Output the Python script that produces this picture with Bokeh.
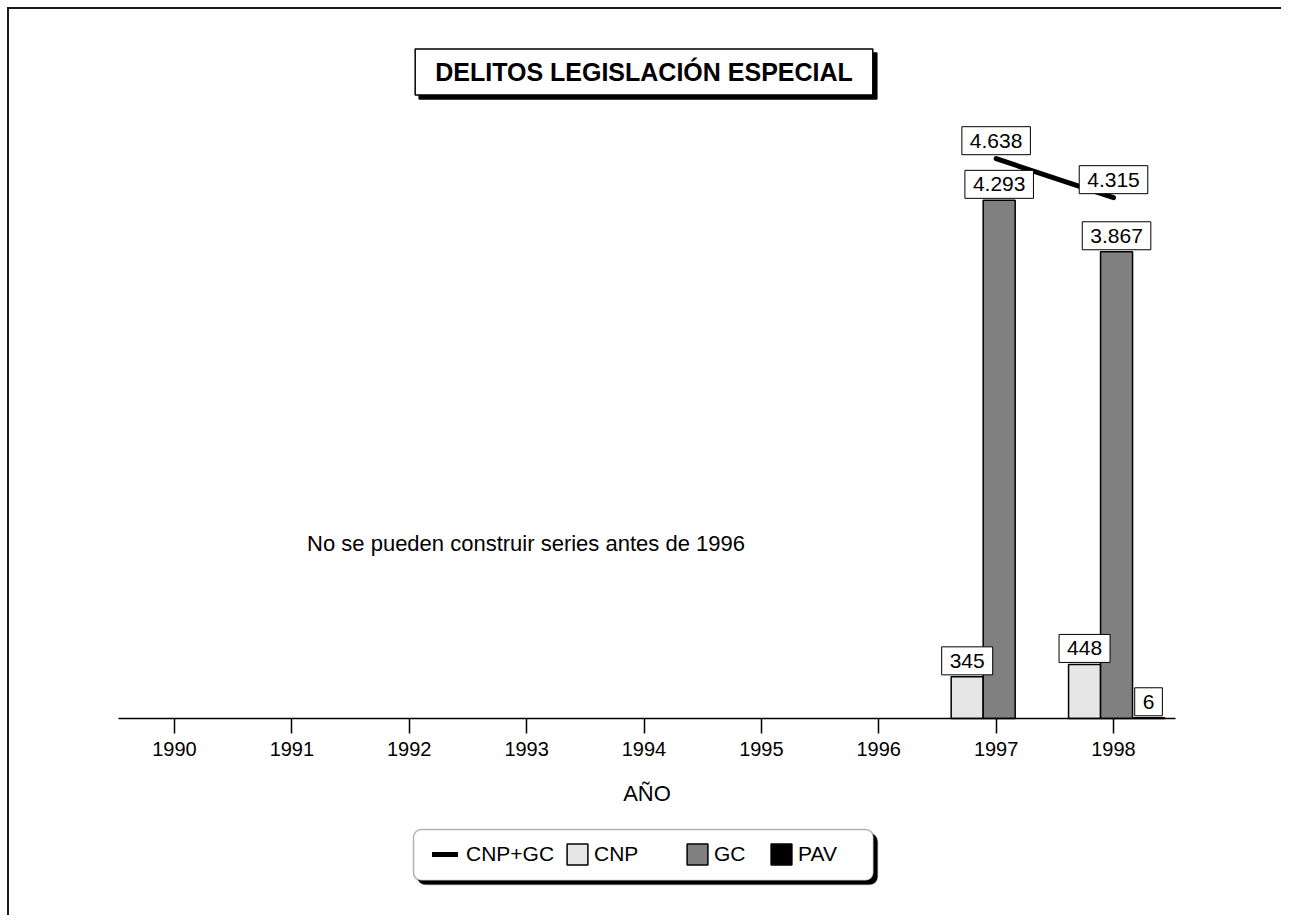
import math
from bokeh.plotting import figure
from bokeh.models import Label, BoxAnnotation, Legend, LegendItem, FixedTicker
from bokeh.embed import file_html
from bokeh.resources import INLINE

# ---------------- data ----------------
years = [1990, 1991, 1992, 1993, 1994, 1995, 1996, 1997, 1998]
data_years = [1997, 1998]
cnp = [345, 448]
gc = [4293, 3867]
pav = [float("nan"), 6]
cnp_gc = [4638, 4315]
series = ["CNP+GC", "CNP", "GC", "PAV"]
title_text = "DELITOS LEGISLACIÓN ESPECIAL"
note_text = "No se pueden construir series antes de 1996"
x_label = "AÑO"

# ---------------- geometry ----------------
W, H = 1281, 915
SX = 117.375          # pixels per year
PXU = 0.1207          # pixels per unit (y)
X0 = 1990 - 174 / SX
X1 = X0 + W / SX
Y1 = 718 / PXU
Y0 = -(H - 718) / PXU


def px2x(px):
    return X0 + px / SX


def px2y(py):
    return Y1 - py / PXU


FONT = "Liberation Sans"

p = figure(width=W, height=H, x_range=(X0, X1), y_range=(Y0, Y1),
           output_backend="svg", toolbar_location=None, y_axis_location=None,
           min_border=0, min_border_left=0, min_border_right=0,
           min_border_top=0, min_border_bottom=0)
p.outline_line_color = None
p.xgrid.visible = False
p.ygrid.visible = False
p.background_fill_color = "white"
p.border_fill_color = "white"

# x axis
ax = p.xaxis[0]
ax.fixed_location = 0
ax.bounds = (px2x(118), px2x(1175))
ax.ticker = FixedTicker(ticks=years)
ax.axis_line_color = "black"
ax.axis_line_width = 1.5
ax.major_tick_line_color = "black"
ax.major_tick_line_width = 1.5
ax.major_tick_in = 0
ax.major_tick_out = 15
ax.minor_tick_line_color = None
ax.major_label_text_font = FONT
ax.major_label_text_font_size = "20px"
ax.major_label_text_color = "black"
ax.major_label_standoff = 8
ax.axis_label = x_label
ax.axis_label_text_font = FONT
ax.axis_label_text_font_size = "22px"
ax.axis_label_text_font_style = "normal"
ax.axis_label_text_color = "black"
ax.axis_label_standoff = 22

# bars
BW = 0.2726
off_gc = 0.026
off_cnp = off_gc - BW
off_pav = off_gc + BW
r_cnp = p.vbar(x=[y + off_cnp for y in data_years], top=cnp, bottom=0, width=BW,
               fill_color="#e6e6e6", line_color="black", line_width=1.5)
r_gc = p.vbar(x=[y + off_gc for y in data_years], top=gc, bottom=0, width=BW,
              fill_color="#808080", line_color="black", line_width=1.5)
r_pav = p.vbar(x=[y + off_pav for y in data_years], top=pav, bottom=0, width=BW,
               fill_color="black", line_color="black", line_width=1.5)
r_tot = p.line(x=data_years, y=cnp_gc, line_width=5, line_color="black", line_cap="round")

HAS_PAD = "padding" in Label.properties()


def fmt(v):
    return "{:,}".format(int(v)).replace(",", ".")


def value_label(x, y, txt, yoff):
    kw = dict(x=x, y=y, text=txt, text_align="center", text_baseline="bottom",
              y_offset=yoff, text_font=FONT, text_font_size="21px", text_color="black",
              background_fill_color="white", border_line_color="black",
              border_line_width=1)
    if HAS_PAD:
        kw["padding"] = (8, 7)
    p.add_layout(Label(**kw))


for yr, v in zip(data_years, cnp_gc):
    value_label(yr, v, fmt(v), 4)
for off, vals in ((off_cnp, cnp), (off_gc, gc), (off_pav, pav)):
    for yr, v in zip(data_years, vals):
        if v is None or (isinstance(v, float) and math.isnan(v)):
            continue
        value_label(yr + off, v, fmt(v), 2)

# outer border: only its top and left edges fall inside the picture (filled strips)
p.add_layout(BoxAnnotation(left=px2x(6.5), top=px2y(6.5), bottom=px2y(8.5), right=None,
                           fill_color="#1a1a1a", fill_alpha=1.0, line_color=None))
p.add_layout(BoxAnnotation(left=px2x(6.5), right=px2x(8.5), top=px2y(6.5), bottom=None,
                           fill_color="#1a1a1a", fill_alpha=1.0, line_color=None))

# title box with shadow
tx, ty = px2x(643.5), px2y(71.5)
for shadow in (True, False):
    kw = dict(x=tx, y=ty, text=title_text, text_align="center", text_baseline="middle",
              text_font=FONT, text_font_size="25px", text_font_style="bold",
              text_color="black",
              background_fill_color="black" if shadow else "white",
              border_line_color="black", border_line_width=1.5)
    if shadow:
        kw["x_offset"] = 4
        kw["y_offset"] = -4
    if HAS_PAD:
        kw["padding"] = (20, 9)
    p.add_layout(Label(**kw))

# note
p.add_layout(Label(x=px2x(525.5), y=px2y(543), text=note_text, text_align="center",
                   text_baseline="middle", text_font=FONT, text_font_size="22px",
                   text_color="black"))

# legend frame with shadow
HAS_BR = "border_radius" in BoxAnnotation.properties()
for shadow in (True, False):
    d = 4 if shadow else 0
    kw = dict(left=px2x(413 + d), right=px2x(873 + d), top=px2y(829 + d),
              bottom=px2y(880 + d),
              fill_color="black" if shadow else "white", fill_alpha=1.0,
              line_color="black", line_width=1.5)
    if HAS_BR:
        kw["border_radius"] = 8
    p.add_layout(BoxAnnotation(**kw))

# legends (one per item, placed individually)
leg_x = [432, 564, 684, 768]
leg_standoff = [8, 4, 4, 4]
renderers = [r_tot, r_cnp, r_gc, r_pav]
ly = H - 854 - 13
for name, lx, so, rr in zip(series, leg_x, leg_standoff, renderers):
    lg = Legend(items=[LegendItem(label=name, renderers=[rr])], location=(lx, ly),
                orientation="horizontal", glyph_width=26, glyph_height=26,
                label_standoff=so, padding=0, margin=0, spacing=0,
                border_line_color=None, background_fill_alpha=0.0,
                label_text_font=FONT, label_text_font_size="21px",
                label_text_color="black")
    p.add_layout(lg)

open("out.html", "w").write(file_html(p, INLINE))
